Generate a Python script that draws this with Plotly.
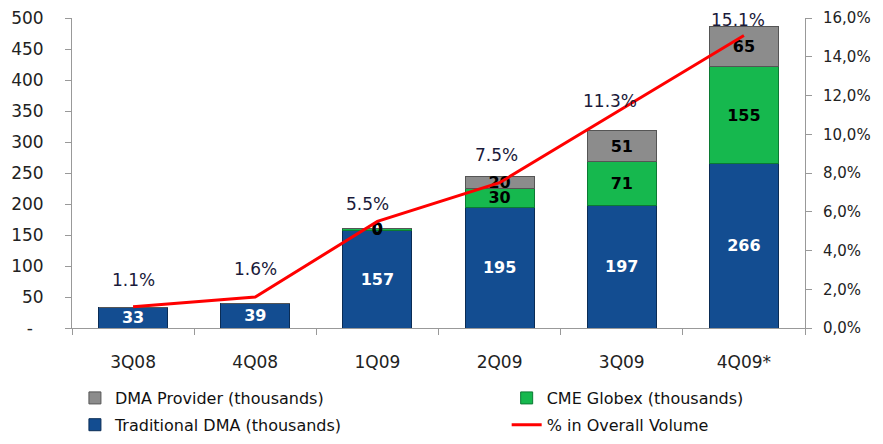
import plotly.graph_objects as go

quarters = ["3Q08", "4Q08", "1Q09", "2Q09", "3Q09", "4Q09*"]
traditional_dma = [33, 39, 157, 195, 197, 266]
cme_globex = [0, 0, 3, 30, 71, 155]
dma_provider = [0, 0, 1, 20, 51, 65]
pct_overall = [1.1, 1.6, 5.5, 7.5, 11.3, 15.1]

trad_labels = [str(v) for v in traditional_dma]
cme_labels = ["", "", "0", "30", "71", "155"]
prov_labels = ["", "", "0", "20", "51", "65"]

left_ticks = list(range(0, 501, 50))
left_text = ["-\u00a0\u00a0"] + [str(v) for v in left_ticks[1:]]
right_ticks = list(range(0, 17, 2))
right_text = [f"{v},0%" for v in right_ticks]

# manual nudges of the % labels, as in the original slide
pct_label_dy = [27, 28, 17, 28, 8, 15]
pct_label_dx = [0, 0, -10, -3, -12, -6]

font = "DejaVu Sans, sans-serif"

fig = go.Figure()

fig.add_trace(go.Bar(
    x=quarters, y=traditional_dma, name="Traditional DMA (thousands)",
    legend="legend", legendgroup="trad",
    marker=dict(color="#134d91", line=dict(color="#0a2c55", width=1)),
    text=trad_labels, textposition="inside", insidetextanchor="middle", textangle=0,
    textfont=dict(color="white", size=16, family=font, weight="bold"),
    constraintext="none",
))
fig.add_trace(go.Bar(
    x=quarters, y=cme_globex, name="CME Globex (thousands)",
    legend="legend2", legendgroup="cme",
    marker=dict(color="#16b84e", line=dict(color="#0b7a33", width=1)),
    text=cme_labels, textposition="inside", insidetextanchor="middle", textangle=0,
    textfont=dict(color="black", size=16, family=font, weight="bold"),
    constraintext="none",
))
fig.add_trace(go.Bar(
    x=quarters, y=dma_provider, name="DMA Provider (thousands)",
    legend="legend", legendgroup="prov", legendrank=1,
    marker=dict(color="#8c8c8c", line=dict(color="#555555", width=1)),
    text=prov_labels, textposition="inside", insidetextanchor="middle", textangle=0,
    textfont=dict(color="black", size=16, family=font, weight="bold"),
    constraintext="none",
))
fig.add_trace(go.Scatter(
    x=quarters, y=pct_overall, name="% in Overall Volume", yaxis="y2",
    legend="legend2", legendgroup="pct", legendrank=2000,
    mode="lines", line=dict(color="#ff0000", width=3),
))

# percentage labels above the line points
for q, p, dy, dx in zip(quarters, pct_overall, pct_label_dy, pct_label_dx):
    fig.add_annotation(
        x=q, y=p, yref="y2", text=f"{p}%", showarrow=False,
        yshift=dy, xshift=dx, font=dict(color="#1a1a3a", size=17, family=font),
    )

legend_style = dict(
    orientation="v", y=-0.171, xanchor="left", yanchor="top",
    traceorder="grouped", font=dict(size=16, color="#111", family=font),
    bgcolor="rgba(0,0,0,0)", tracegroupgap=3,
)

# page body has an 8px margin, so the figure is 16px smaller than the window
fig.update_layout(
    width=867, height=428,
    margin=dict(l=64, r=70, t=10, b=108, autoexpand=False),
    paper_bgcolor="white", plot_bgcolor="white",
    barmode="stack", bargap=0.435,
    font=dict(family=font, size=16, color="#222"),
    showlegend=True,
    legend=dict(x=0.004, **legend_style),
    legend2=dict(x=0.593, **legend_style),
    xaxis=dict(
        showline=True, linecolor="#999", ticks="outside", tickson="boundaries",
        tickcolor="#999", ticklen=6, tickfont=dict(size=17),
        ticklabelstandoff=19, automargin=False,
    ),
    yaxis=dict(
        range=[0, 500], tickvals=left_ticks, ticktext=left_text,
        showline=True, linecolor="#999", ticks="outside", tickcolor="#999",
        ticklen=6, showgrid=False, zeroline=False, tickfont=dict(size=17),
        ticklabelstandoff=18, automargin=False, ticklabeloverflow="allow",
    ),
    yaxis2=dict(
        range=[0, 16], tickvals=right_ticks, ticktext=right_text,
        overlaying="y", side="right", showline=True, linecolor="#999",
        ticks="outside", tickcolor="#999", ticklen=6, showgrid=False,
        zeroline=False, tickfont=dict(size=15), ticklabelstandoff=8,
        automargin=False, ticklabeloverflow="allow",
    ),
)

fig.write_html("out.html")
